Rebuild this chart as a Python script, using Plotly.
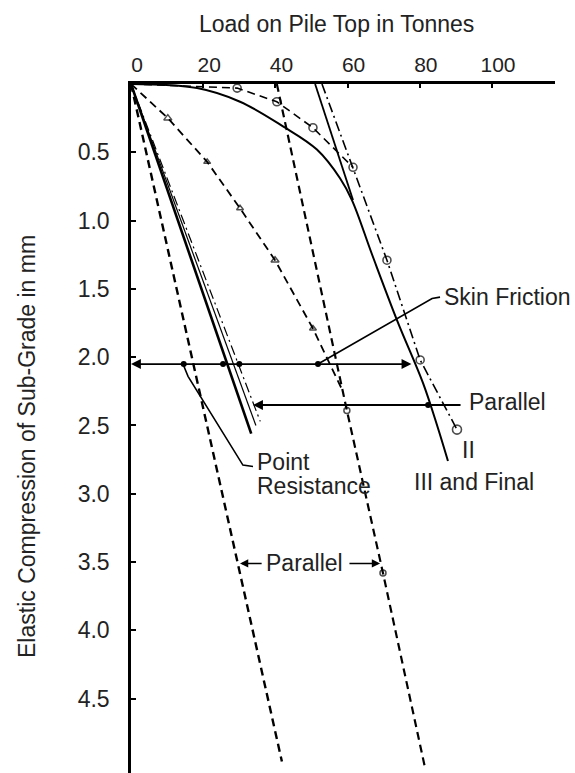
import plotly.graph_objects as go

FONT = "Liberation Sans, Arial, sans-serif"
TXT = "#222222"

# ---- readings: load on pile top (t) vs elastic compression of sub-grade (mm) ----

# Curve "III and Final"
load_III = [0, 18.3, 30.2, 42.1, 51.5, 57.9, 61.2, 66.8, 73.7, 80.9, 84.8, 87.8]
comp_III = [0, 0.03, 0.13, 0.31, 0.48, 0.69, 0.85, 1.25, 1.73, 2.19, 2.50, 2.76]

# straight portion of curve III carried up to the load axis
load_III_tan = [51.0, 61.5]
comp_III_tan = [0, 0.85]

# Curve II, upper readings (rings)
load_II = [0, 29.4, 40.4, 50.4, 61.5]
comp_II = [0, 0.03, 0.13, 0.32, 0.61]

# Curve II, straight portion through the lower rings
load_II_lin = [52.9, 61.5, 70.9, 80.1, 90.3]
comp_II_lin = [0, 0.61, 1.29, 2.02, 2.53]

# first loading curve
load_I = [0, 10.2, 21.1, 30.2, 39.9, 50.4, 58.7]
comp_I = [0, 0.25, 0.57, 0.91, 1.29, 1.79, 2.25]

# straight dashed line continuing the first loading curve
load_I_lin = [40.4, 59.8, 69.8, 81.4]
comp_I_lin = [0, 2.39, 3.58, 5.0]

# dashed line through the origin, parallel to the one above
load_par = [0, 41.8]
comp_par = [0, 4.96]

# lines through the origin parallel to the straight portions of II and III
load_o_solid = [0, 33.3]
comp_o_solid = [0, 2.56]
load_o_solid2 = [0, 34.6]
comp_o_solid2 = [0, 2.50]
load_o_dashdot = [0, 35.8]
comp_o_dashdot = [0, 2.47]

# leader lines for the labels
skin_lead_x = [51.8, 83.4, 85.6]
skin_lead_y = [2.05, 1.57, 1.56]
point_lead_x = [14.4, 15.8, 31.0, 33.8]
point_lead_y = [2.05, 2.14, 2.79, 2.80]

# construction levels (mm)
level_a = 2.05
level_b = 2.35
level_c = 3.51

# dots where construction lines cross
dots_a_x = [14.6, 25.5, 30.0, 51.8]
dots_b_x = [82.3]

x_ticks = [0, 20, 40, 60, 80, 100]
y_ticks = [0.5, 1.0, 1.5, 2.0, 2.5, 3.0, 3.5, 4.0, 4.5]
y_labels = ["0.5", "1.0", "1.5", "2.0", "2.5", "3.0", "3.5", "4.0", "4.5"]

DASH = "8px,5px"
DASHDOT = "10px,4px,2px,4px"

fig = go.Figure()


def line(x, y, width=1.8, dash="solid", **kw):
    fig.add_trace(go.Scatter(
        x=x, y=y, mode=kw.pop("mode", "lines"),
        line=dict(color="black", width=width, dash=dash),
        cliponaxis=False, hoverinfo="skip", **kw))


line(load_III, comp_III, width=2.0, line_shape="spline")
line(load_III_tan, comp_III_tan, width=1.8)
line(load_II, comp_II, width=1.6, dash=DASH, mode="lines+markers",
     marker=dict(symbol="circle-open", size=[0, 8, 8, 8, 8], color="black",
                 line=dict(width=1.6)))
line(load_II_lin, comp_II_lin, width=1.6, dash=DASHDOT, mode="lines+markers",
     marker=dict(symbol="circle-open", size=[0, 0, 8, 8, 9], color="black",
                 line=dict(width=1.6)))
line(load_I, comp_I, width=1.8, dash=DASH, mode="lines+markers",
     marker=dict(symbol="triangle-up-open", size=[0, 7, 6, 6, 7, 6, 0],
                 color="black", line=dict(width=1.5)))
line(load_I_lin, comp_I_lin, width=2.2, dash=DASH, mode="lines+markers",
     marker=dict(symbol="circle-open", size=[0, 6, 6, 0], color="black",
                 line=dict(width=1.5)))
line(load_par, comp_par, width=2.4, dash=DASH)
line(load_o_solid, comp_o_solid, width=2.6)
line(load_o_solid2, comp_o_solid2, width=1.2)
line(load_o_dashdot, comp_o_dashdot, width=1.2, dash=DASHDOT)
line(skin_lead_x, skin_lead_y, width=1.6)
line(point_lead_x, point_lead_y, width=1.6)

fig.add_trace(go.Scatter(
    x=dots_a_x + dots_b_x,
    y=[level_a] * len(dots_a_x) + [level_b] * len(dots_b_x),
    mode="markers", marker=dict(color="black", size=6),
    cliponaxis=False, hoverinfo="skip"))

arrow = dict(xref="x", yref="y", axref="x", ayref="y", text="",
             showarrow=True, arrowhead=2, arrowsize=1.1, arrowwidth=1.8,
             arrowcolor="black")
annotations = [
    dict(arrow, x=0, y=level_a, ax=78.1, ay=level_a, arrowside="end+start"),
    dict(arrow, x=33.8, y=level_b, ax=91.7, ay=level_b),
    dict(arrow, x=30.2, y=level_c, ax=36.6, ay=level_c, arrowwidth=1.5),
    dict(arrow, x=69.0, y=level_c, ax=60.1, ay=level_c, arrowwidth=1.5),
]

label = dict(xref="x", yref="y", showarrow=False, xanchor="left",
             yanchor="middle", font=dict(family=FONT, size=23, color=TXT))
annotations += [
    dict(label, x=86.1, y=1.56, text="Skin Friction"),
    dict(label, x=93.1, y=2.33, text="Parallel"),
    dict(label, x=91.1, y=2.68, text="II"),
    dict(label, x=77.8, y=2.91, text="III and Final"),
    dict(label, x=34.3, y=2.77, text="Point"),
    dict(label, x=34.3, y=2.94, text="Resistance"),
    dict(label, x=48.0, y=level_c, text="Parallel", xanchor="center"),
    dict(xref="paper", yref="paper", x=0.4835, y=1.0871, showarrow=False,
         text="Load on Pile Top in Tonnes", xanchor="center", yanchor="middle",
         font=dict(family=FONT, size=23, color=TXT)),
    dict(xref="paper", yref="paper", x=-0.2453, y=0.4746, showarrow=False,
         text="Elastic Compression of Sub-Grade in mm", textangle=-90,
         xanchor="center", yanchor="middle",
         font=dict(family=FONT, size=23, color=TXT)),
]

fig.update_layout(
    width=575, height=773,
    margin=dict(l=131, r=20, t=84, b=0),
    paper_bgcolor="white", plot_bgcolor="white",
    showlegend=False,
    font=dict(family=FONT, size=23, color=TXT),
    annotations=annotations,
)
fig.update_xaxes(
    range=[0, 117.45], side="top", showline=True, linecolor="black",
    linewidth=2.5, ticks="inside", ticklen=4, tickwidth=1.5, tickcolor="black",
    tickvals=x_ticks, tickfont=dict(family=FONT, size=21, color=TXT),
    showgrid=False, zeroline=False, ticklabelstandoff=1, ticklabelshift=6,
)
fig.update_yaxes(
    range=[5.044, 0], showline=True, linecolor="black", linewidth=2.5,
    ticks="inside", ticklen=5, tickwidth=1.5, tickcolor="black",
    tickvals=y_ticks, ticktext=y_labels,
    tickfont=dict(family=FONT, size=23, color=TXT),
    showgrid=False, zeroline=False, ticklabelstandoff=14,
)

fig.write_html("out.html")
